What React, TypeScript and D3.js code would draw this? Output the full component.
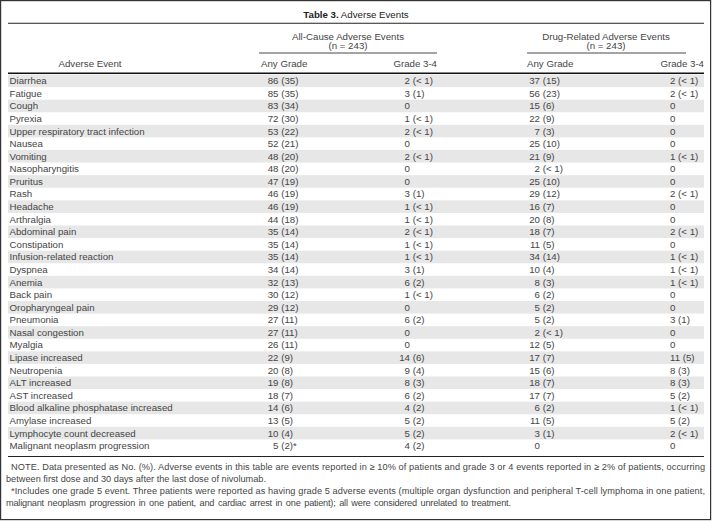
import React, { useEffect } from "react";
import * as d3 from "d3";

const events = [
  "Diarrhea", "Fatigue", "Cough", "Pyrexia", "Upper respiratory tract infection", "Nausea",
  "Vomiting", "Nasopharyngitis", "Pruritus", "Rash", "Headache", "Arthralgia",
  "Abdominal pain", "Constipation", "Infusion-related reaction", "Dyspnea", "Anemia",
  "Back pain", "Oropharyngeal pain", "Pneumonia", "Nasal congestion", "Myalgia",
  "Lipase increased", "Neutropenia", "ALT increased", "AST increased",
  "Blood alkaline phosphatase increased", "Amylase increased", "Lymphocyte count decreased",
  "Malignant neoplasm progression",
];

const allCauseAny = [
  "86 (35)", "85 (35)", "83 (34)", "72 (30)", "53 (22)", "52 (21)", "48 (20)", "48 (20)",
  "47 (19)", "46 (19)", "46 (19)", "44 (18)", "35 (14)", "35 (14)", "35 (14)", "34 (14)",
  "32 (13)", "30 (12)", "29 (12)", "27 (11)", "27 (11)", "26 (11)", "22 (9)", "20 (8)",
  "19 (8)", "18 (7)", "14 (6)", "13 (5)", "10 (4)", "5 (2)*",
];

const allCauseG34 = [
  "2 (< 1)", "3 (1)", "0", "1 (< 1)", "2 (< 1)", "0", "2 (< 1)", "0", "0", "3 (1)",
  "1 (< 1)", "1 (< 1)", "2 (< 1)", "1 (< 1)", "1 (< 1)", "3 (1)", "6 (2)", "1 (< 1)",
  "0", "6 (2)", "0", "0", "14 (6)", "9 (4)", "8 (3)", "6 (2)", "4 (2)", "5 (2)", "5 (2)", "4 (2)",
];

const drugAny = [
  "37 (15)", "56 (23)", "15 (6)", "22 (9)", "7 (3)", "25 (10)", "21 (9)", "2 (< 1)",
  "25 (10)", "29 (12)", "16 (7)", "20 (8)", "18 (7)", "11 (5)", "34 (14)", "10 (4)",
  "8 (3)", "6 (2)", "5 (2)", "5 (2)", "2 (< 1)", "12 (5)", "17 (7)", "15 (6)", "18 (7)",
  "17 (7)", "6 (2)", "11 (5)", "3 (1)", "0",
];

const drugG34 = [
  "2 (< 1)", "2 (< 1)", "0", "0", "0", "0", "1 (< 1)", "0", "0", "2 (< 1)", "0", "0",
  "2 (< 1)", "0", "1 (< 1)", "1 (< 1)", "1 (< 1)", "0", "0", "3 (1)", "0", "0",
  "11 (5)", "8 (3)", "8 (3)", "5 (2)", "1 (< 1)", "5 (2)", "2 (< 1)", "0",
];

const titleBold = "Table 3.";
const titleRest = " Adverse Events";
const groupLabels = ["All-Cause Adverse Events", "Drug-Related Adverse Events"];
const groupN = ["(n = 243)", "(n = 243)"];
const colHeaders = ["Any Grade", "Grade 3-4", "Any Grade", "Grade 3-4"];
const firstHeader = "Adverse Event";

const notes = [
  "NOTE. Data presented as No. (%). Adverse events in this table are events reported in \u2265 10% of patients and grade 3 or 4 events reported in \u2265 2% of patients, occurring",
  "between first dose and 30 days after the last dose of nivolumab.",
  "*Includes one grade 5 event. Three patients were reported as having grade 5 adverse events (multiple organ dysfunction and peripheral T-cell lymphoma in one patient,",
  "malignant neoplasm progression in one patient, and cardiac arrest in one patient); all were considered unrelated to treatment.",
];

const W = 712;
const H = 521;
const FONT = "'Liberation Sans', Arial, Helvetica, sans-serif";
const TXT = "#454545";

export default function App() {
  useEffect(() => {
    document.body.style.margin = "0";
  }, []);

  const rowScale = d3
    .scaleBand<number>()
    .domain(d3.range(events.length))
    .range([74.5, 452])
    .padding(0);
  const bw = rowScale.bandwidth();

  const cols = [
    { data: allCauseAny, mode: "num", x: 278.5 },
    { data: allCauseG34, mode: "num", x: 410 },
    { data: drugAny, mode: "num", x: 540 },
    { data: drugG34, mode: "left", x: 670 },
  ];

  const renderVal = (s: string, mode: string, x: number, y: number, key: string) => {
    if (mode === "left") {
      return (
        <text key={key} x={x} y={y} textAnchor="start">
          {s}
        </text>
      );
    }
    const i = s.indexOf(" ");
    const num = i < 0 ? s : s.slice(0, i);
    const rest = i < 0 ? "" : s.slice(i);
    return (
      <g key={key}>
        <text x={x} y={y} textAnchor="end">
          {num}
        </text>
        {rest && (
          <text x={x} y={y} textAnchor="start">
            {"\u00a0" + rest.trim()}
          </text>
        )}
      </g>
    );
  };

  const noteX = [11, 6, 11, 6];
  const noteLen = [694, 0, 694, 505];
  const noteWS = [0, 0, 0, 1.3];
  const noteY = d3.scaleLinear().domain([0, 3]).range([469.5, 505.5]);

  return (
    <svg
      width={W}
      height={H}
      style={{ position: "absolute", left: 0, top: 0, background: "#fff" }}
      fontFamily={FONT}
      fontSize={9.7}
      fill={TXT}
    >
      <rect x={0} y={0} width={W} height={H} fill="#fff" />
      <rect x={0.6} y={0.6} width={710} height={519} fill="none" stroke="#333" strokeWidth={1.2} />

      <text x={356} y={17.5} textAnchor="middle" fill="#222">
        <tspan fontWeight="bold">{titleBold}</tspan>
        <tspan>{titleRest}</tspan>
      </text>
      <line x1={8} x2={704} y1={23.3} y2={23.3} stroke="#222" strokeWidth={1.1} />

      {[348, 606].map((cx, i) => (
        <g key={"g" + i}>
          <text x={cx} y={39.5} textAnchor="middle">
            {groupLabels[i]}
          </text>
          <text x={cx} y={49} textAnchor="middle">
            {groupN[i]}
          </text>
        </g>
      ))}
      <line x1={259} x2={437} y1={53} y2={53} stroke="#333" strokeWidth={0.9} />
      <line x1={527} x2={686} y1={53} y2={53} stroke="#333" strokeWidth={0.9} />

      <text x={90} y={66.8} textAnchor="middle">
        {firstHeader}
      </text>
      <text x={261} y={66.8}>{colHeaders[0]}</text>
      <text x={437} y={66.8} textAnchor="end">
        {colHeaders[1]}
      </text>
      <text x={527} y={66.8}>{colHeaders[2]}</text>
      <text x={704} y={66.8} textAnchor="end">
        {colHeaders[3]}
      </text>
      <line x1={8} x2={704} y1={73.2} y2={73.2} stroke="#111" strokeWidth={1.4} />

      {events.map((_, i) =>
        i % 2 === 0 ? (
          <rect
            key={"b" + i}
            x={8}
            y={rowScale(i)!}
            width={696}
            height={bw}
            fill="#e7e7e7"
          />
        ) : null
      )}

      {events.map((ev, i) => {
        const y = rowScale(i)! + bw / 2 + 3.4;
        return (
          <g key={"r" + i}>
            <text x={9.5} y={y}>
              {ev}
            </text>
            {cols.map((c, j) => renderVal(c.data[i], c.mode, c.x, y, "c" + i + "-" + j))}
          </g>
        );
      })}

      <line x1={8} x2={704} y1={456.5} y2={456.5} stroke="#222" strokeWidth={1} />

      {notes.map((n, i) => (
        <text
          key={"n" + i}
          x={noteX[i]}
          y={noteY(i)}
          fontSize={9.2}
          wordSpacing={noteWS[i] || undefined}
          textLength={noteLen[i] || undefined}
          lengthAdjust={noteLen[i] ? "spacing" : undefined}
        >
          {n}
        </text>
      ))}
    </svg>
  );
}
